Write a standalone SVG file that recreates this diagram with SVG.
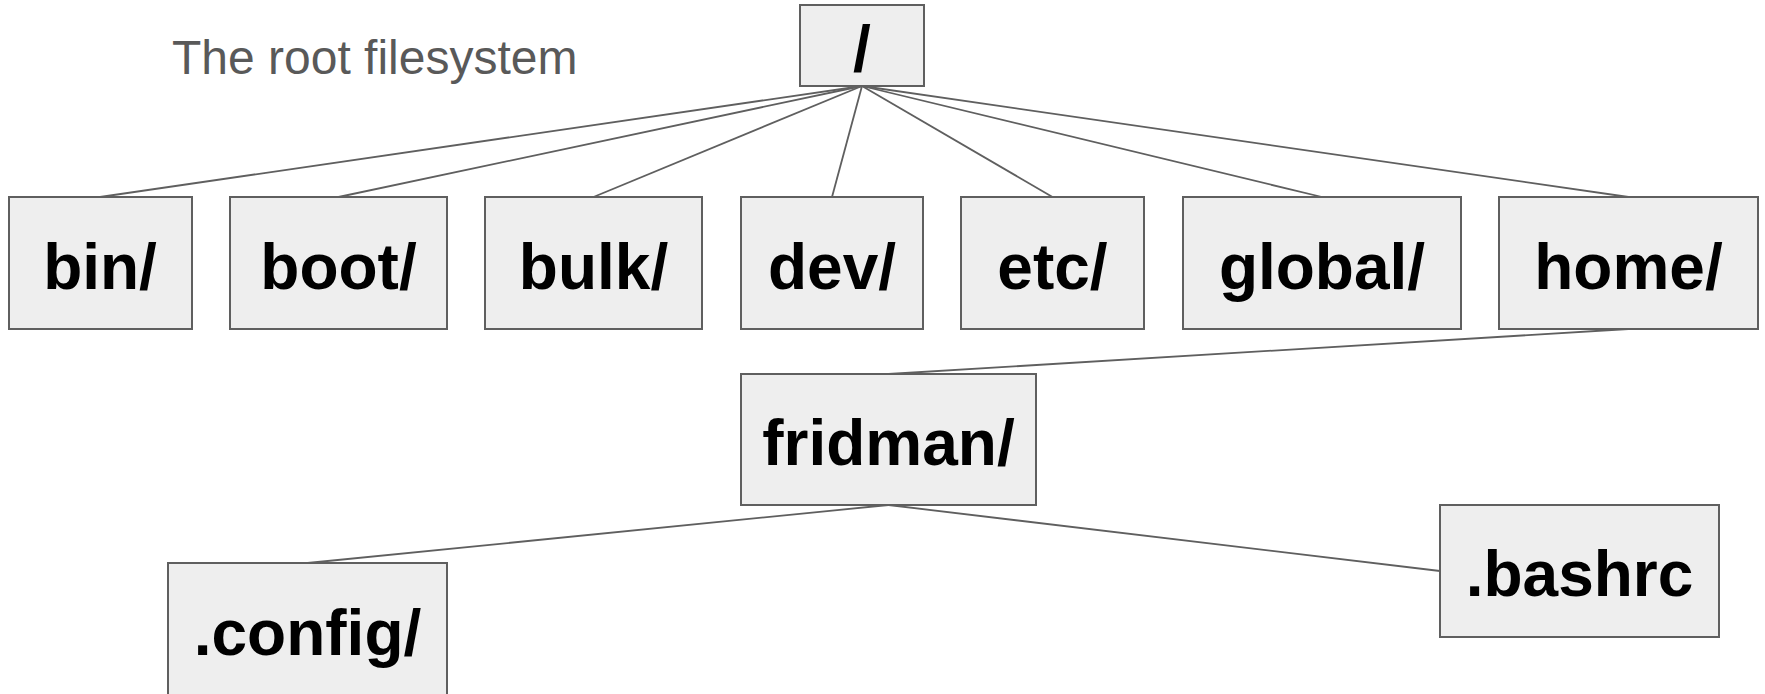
<svg xmlns="http://www.w3.org/2000/svg" width="1765" height="694" viewBox="0 0 1765 694">
<style>
.box{fill:#eeeeee;stroke:#5f5f5f;stroke-width:2}
.lbl{font-family:"Liberation Sans",Arial,sans-serif;font-weight:bold;font-size:64px;fill:#000;text-anchor:middle}
.title{font-family:"Liberation Sans",Arial,sans-serif;font-size:48px;fill:#595959}
.edge{stroke:#5f5f5f;stroke-width:1.8;fill:none}
</style>
<rect width="1765" height="694" fill="#ffffff"/>
<text class="title" x="172" y="74">The root filesystem</text>
<g id="connectors">
<line class="edge" x1="862" y1="86" x2="100" y2="197"/>
<line class="edge" x1="862" y1="86" x2="338.5" y2="197"/>
<line class="edge" x1="862" y1="86" x2="593.5" y2="197"/>
<line class="edge" x1="862" y1="86" x2="832" y2="197"/>
<line class="edge" x1="862" y1="86" x2="1052.5" y2="197"/>
<line class="edge" x1="862" y1="86" x2="1322" y2="197"/>
<line class="edge" x1="862" y1="86" x2="1628.5" y2="197"/>
<line class="edge" x1="1628.5" y1="329" x2="888.5" y2="374"/>
<line class="edge" x1="888.5" y1="505" x2="307.5" y2="563"/>
<line class="edge" x1="888.5" y1="505" x2="1440" y2="571"/>
</g>
<g id="root"><rect class="box" x="800" y="5" width="124" height="81"/><text class="lbl" x="862" y="71">/</text></g>
<g id="bin"><rect class="box" x="9" y="197" width="183" height="132"/><text class="lbl" x="100" y="289">bin/</text></g>
<g id="boot"><rect class="box" x="230" y="197" width="217" height="132"/><text class="lbl" x="338.5" y="289">boot/</text></g>
<g id="bulk"><rect class="box" x="485" y="197" width="217" height="132"/><text class="lbl" x="593.5" y="289">bulk/</text></g>
<g id="dev"><rect class="box" x="741" y="197" width="182" height="132"/><text class="lbl" x="832" y="289">dev/</text></g>
<g id="etc"><rect class="box" x="961" y="197" width="183" height="132"/><text class="lbl" x="1052.5" y="289">etc/</text></g>
<g id="global"><rect class="box" x="1183" y="197" width="278" height="132"/><text class="lbl" x="1322" y="289">global/</text></g>
<g id="home"><rect class="box" x="1499" y="197" width="259" height="132"/><text class="lbl" x="1628.5" y="289">home/</text></g>
<g id="fridman"><rect class="box" x="741" y="374" width="295" height="131"/><text class="lbl" x="888.5" y="465">fridman/</text></g>
<g id="config"><rect class="box" x="168" y="563" width="279" height="140"/><text class="lbl" x="307.5" y="655">.config/</text></g>
<g id="bashrc"><rect class="box" x="1440" y="505" width="279" height="132"/><text class="lbl" x="1579.5" y="596">.bashrc</text></g>
</svg>
